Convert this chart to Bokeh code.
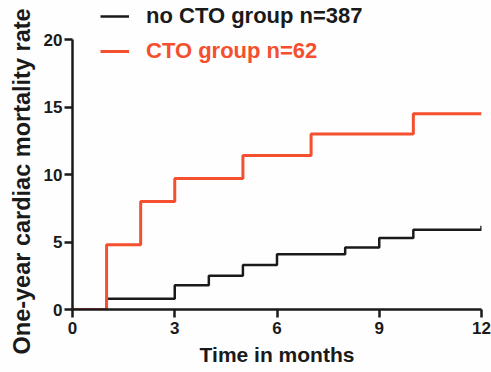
from bokeh.plotting import figure
from bokeh.models import Range1d, Legend, LegendItem, FixedTicker, Title
from bokeh.embed import file_html
from bokeh.resources import INLINE

# Data
no_cto_t = [0, 1, 3, 4, 5, 6, 8, 9, 10, 12]
no_cto_v = [0, 0.8, 1.8, 2.5, 3.3, 4.1, 4.6, 5.3, 5.9, 6.2]
cto_t = [0, 1, 2, 3, 5, 7, 10, 12]
cto_v = [0, 4.8, 8.0, 9.7, 11.4, 13.0, 14.5, 14.5]
x_ticks = [0, 3, 6, 9, 12]
y_ticks = [0, 5, 10, 15, 20]
labels = ["no CTO group n=387", "CTO group n=62"]
x_title = "Time in months"
y_title = "One-year cardiac mortality rate"

RED = "#F4502F"
BLACK = "#1a1a1a"
FONT = "Liberation Sans"

# frame extends above the 20 tick to leave room for the legend
p = figure(frame_width=409, frame_height=309, output_backend="svg",
           toolbar_location=None,
           x_range=Range1d(0, 12), y_range=Range1d(0, 22.89),
           min_border_left=72, min_border_top=0, min_border_right=10,
           min_border_bottom=63)
p.outline_line_color = None
p.grid.visible = False
p.background_fill_color = "#fefefe"
p.border_fill_color = "#fefefe"

r_black = p.step(no_cto_t, no_cto_v, mode="after", line_color=BLACK, line_width=2.5)
r_red = p.step(cto_t, cto_v, mode="after", line_color=RED, line_width=3)

for ax in (p.xaxis[0], p.yaxis[0]):
    ax.axis_line_width = 2.5
    ax.axis_line_color = BLACK
    ax.major_tick_line_width = 2.5
    ax.major_tick_line_color = BLACK
    ax.major_tick_out = 8
    ax.major_tick_in = 0
    ax.minor_tick_line_color = None
    ax.major_label_text_font = FONT
    ax.major_label_text_font_style = "bold"
    ax.major_label_text_font_size = "17px"
    ax.major_label_text_color = BLACK
    ax.axis_label_text_font = FONT
    ax.axis_label_text_font_style = "bold"
    ax.axis_label_text_color = BLACK

p.xaxis.ticker = FixedTicker(ticks=x_ticks)
p.yaxis.ticker = FixedTicker(ticks=y_ticks)
p.yaxis.bounds = (y_ticks[0], y_ticks[-1])
p.xaxis.axis_label = x_title
p.xaxis.axis_label_text_font_size = "21px"
p.xaxis.major_label_standoff = 4
p.yaxis.major_label_standoff = 2
p.xaxis.axis_label_standoff = 6

ytitle = Title(text=y_title, align="left", offset=-45, standoff=11,
               text_font=FONT, text_font_style="bold", text_font_size="23.5px",
               text_color=BLACK)
p.add_layout(ytitle, "left")

def make_legend(label, renderer, color, loc):
    lg = Legend(items=[LegendItem(label=label, renderers=[renderer])],
                location=loc, padding=0, margin=0, border_line_color=None,
                background_fill_alpha=0, glyph_width=29, glyph_height=26,
                label_height=26, label_standoff=17,
                label_text_font=FONT, label_text_font_style="bold",
                label_text_font_size="22px", label_text_color=color)
    p.add_layout(lg, "center")

make_legend(labels[0], r_black, BLACK, (28, 280))
make_legend(labels[1], r_red, RED, (28, 245))

open("out.html", "w").write(file_html(p, INLINE))
